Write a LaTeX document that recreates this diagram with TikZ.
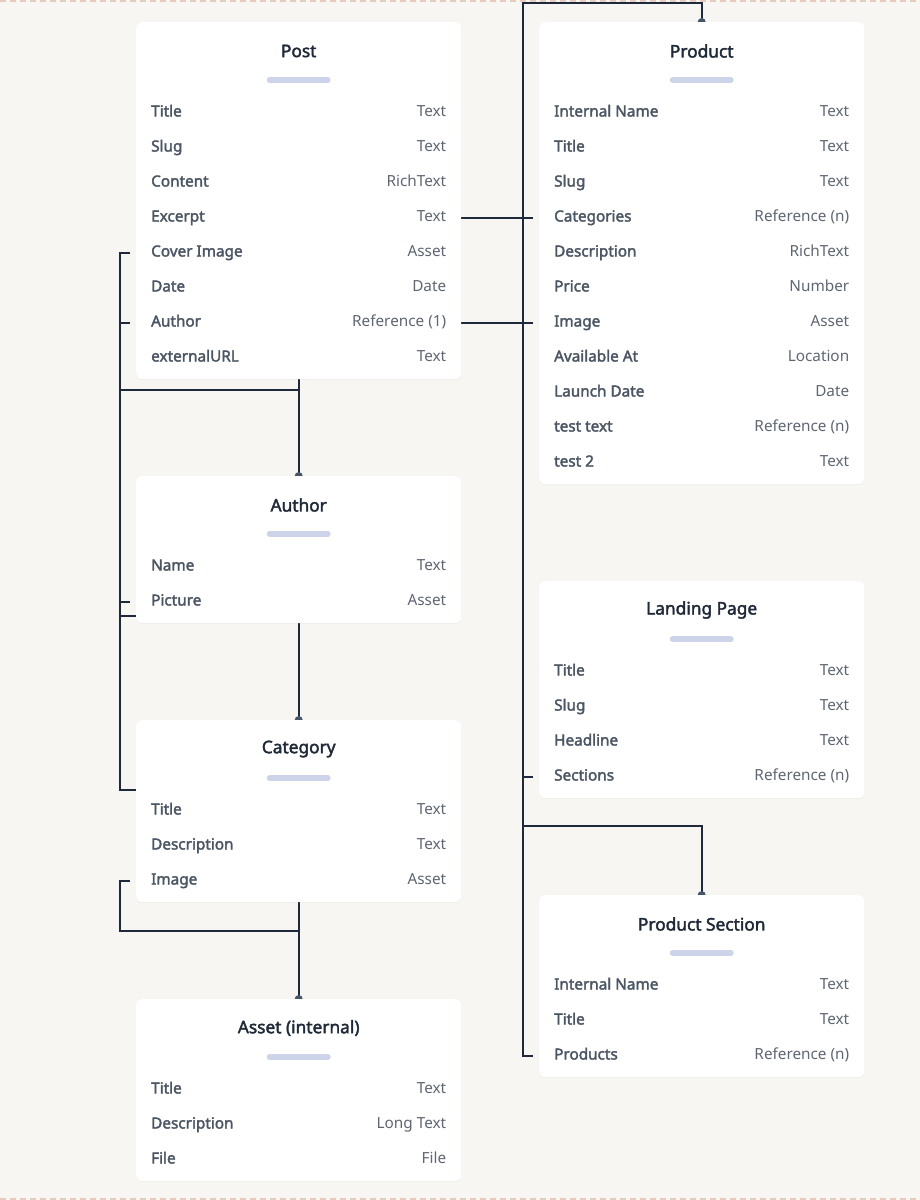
\documentclass[tikz,border=0pt]{standalone}
\usepackage{fontspec}
\setmainfont{Noto Sans}[AutoFakeBold=2.2]
\usetikzlibrary{shadows}

\definecolor{bgc}{HTML}{F7F6F3}
\definecolor{dashc}{HTML}{E8CBBF}
\definecolor{titlec}{HTML}{1F2937}
\definecolor{fieldc}{HTML}{4B5563}
\definecolor{typec}{HTML}{5F6672}
\definecolor{barc}{HTML}{CDD3E8}
\definecolor{linkc}{HTML}{1E293B}
\definecolor{dotc}{HTML}{475569}

\pgfdeclarelayer{back}
\pgfdeclarelayer{links}
\pgfsetlayers{back,links,main}

\tikzset{
  erbox/.style={fill=white, rounded corners=6pt, minimum width=325pt, inner sep=0pt,
    anchor=north west, drop shadow={opacity=0.07, shadow xshift=0pt, shadow yshift=-1pt}},
  ertitle/.style={font=\fontsize{17.3}{19}\selectfont\bfseries, text=titlec, inner sep=0pt},
  erbar/.style={barc, line width=6pt, line cap=round},
  erfield/.style={anchor=west, inner sep=0pt, text height=10pt, text depth=3pt,
    font=\fontsize{15.3}{17}\selectfont\bfseries, text=fieldc},
  ertype/.style={anchor=east, inner sep=0pt, text height=10pt, text depth=3pt,
    font=\fontsize{15.3}{17}\selectfont, text=typec},
  link/.style={linkc, line width=1.8pt},
  border/.style={dashc, line width=2pt, dash pattern=on 6pt off 4pt}
}

% name, top left corner, title, number of rows, rows
\newcommand{\erbox}[5]{%
  \node[erbox, minimum height={77pt+35pt*#4}] (#1) at (#2) {};
  \node[ertitle] (#1-title) at ([yshift=-29pt]#1.north) {#3};
  \draw[erbar] ([xshift=-29pt,yshift=-58pt]#1.north) -- ([xshift=29pt,yshift=-58pt]#1.north);
  \foreach \fn/\ft [count=\i] in {#5} {
    \node[erfield] (#1-\i) at ([xshift=15pt,yshift={-91pt-35pt*(\i-1)}]#1.north west) {\fn};
    \node[ertype] (#1-\i-type) at ([xshift=-15pt,yshift={-91pt-35pt*(\i-1)}]#1.north east) {\ft};
  }
}

\begin{document}
\begin{tikzpicture}[x=1pt,y=-1pt]
\useasboundingbox (0,0) rectangle (920,1200);
\begin{pgfonlayer}{back}
\fill[bgc] (0,0) rectangle (920,1200);
\draw[border] (0,1) -- (920,1);
\draw[border] (0,1199) -- (920,1199);
\end{pgfonlayer}

% left column
\erbox{post}{136,22}{Post}{8}{Title/Text, Slug/Text, Content/RichText, Excerpt/Text,
  Cover Image/Asset, Date/Date, Author/Reference (1), externalURL/Text}
\erbox{author}{136,476}{Author}{2}{Name/Text, Picture/Asset}
\erbox{category}{136,720}{Category}{3}{Title/Text, Description/Text, Image/Asset}
\erbox{asset}{136,999}{Asset (internal)}{3}{Title/Text, Description/Long Text, File/File}

% right column
\erbox{product}{539,22}{Product}{11}{Internal Name/Text, Title/Text, Slug/Text,
  Categories/Reference (n), Description/RichText, Price/Number, Image/Asset,
  Available At/Location, Launch Date/Date, test text/Reference (n), test 2/Text}
\erbox{landing}{539,581}{Landing Page}{4}{Title/Text, Slug/Text, Headline/Text,
  Sections/Reference (n)}
\erbox{psection}{539,895}{Product Section}{3}{Internal Name/Text, Title/Text,
  Products/Reference (n)}

% connectors
\coordinate (lbus) at (120,0);
\coordinate (rbus) at (523,3);
\coordinate (j-post) at (298.5,390);
\coordinate (j-auth) at (136,616);
\coordinate (j-cat) at (136,790);
\coordinate (j-asset) at (298.5,931);
\coordinate (j-sec) at (523,826);

\begin{pgfonlayer}{links}
\draw[link] (post.south) -- (author.north);
\draw[link] (author.south) -- (category.north);
\draw[link] (category.south) -- (asset.north);
\draw[link] ([xshift=-6pt]post.west |- post-5) -- (lbus |- post-5) -- (lbus |- j-cat) -- (j-cat);
\draw[link] ([xshift=-6pt]post.west |- post-7) -- (lbus |- post-7);
\draw[link] (lbus |- j-post) -- (j-post);
\draw[link] ([xshift=-6pt]author.west |- author-2) -- (lbus |- author-2);
\draw[link] (lbus |- j-auth) -- (j-auth);
\draw[link] ([xshift=-6pt]category.west |- category-3) -- (lbus |- category-3)
  -- (lbus |- j-asset) -- (j-asset);

\draw[link] (post.east |- post-4) -- ([xshift=-6pt]product.west |- post-4);
\draw[link] (post.east |- post-7) -- ([xshift=-6pt]product.west |- post-7);
\draw[link] (product.north) -- (product.north |- rbus) -- (rbus) -- (rbus |- psection-3)
  -- ([xshift=-6pt]psection.west |- psection-3);
\draw[link] ([xshift=-6pt]landing.west |- landing-4) -- (rbus |- landing-4);
\draw[link] (j-sec) -- (psection.north |- j-sec) -- (psection.north);

\foreach \n in {author,category,asset,product,psection}
  \fill[dotc] (\n.north) circle (4pt);
\end{pgfonlayer}
\end{tikzpicture}
\end{document}
